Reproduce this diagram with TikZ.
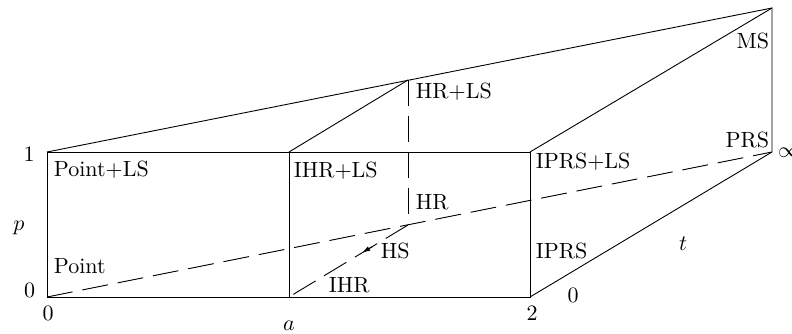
\documentclass[tikz,border=0pt]{standalone}
\usetikzlibrary{arrows.meta,calc}
\begin{document}
\begin{tikzpicture}[x=1pt,y=-1pt, line width=0.9pt,
  lbl/.style={inner sep=0pt, scale=2.2, transform shape},
  dsh/.style={dash pattern=on 26pt off 10pt}]
\useasboundingbox (0,0) rectangle (792,333);
\coordinate (O) at (47,297);
\coordinate (A) at (289,297);
\coordinate (B) at (530,297);
\coordinate (O1) at (47,152);
\coordinate (A1) at (289,152);
\coordinate (B1) at (530,152);
\coordinate (HRLS) at (408,80);
\coordinate (HR) at (408,225);
\coordinate (MS) at (772,8);
\coordinate (PRS) at (772,152);
\draw (O) -- (B) -- (B1) -- (O1) -- cycle;
\draw (A) -- (A1);
\draw (O1) -- (MS) -- (PRS) -- (B);
\draw (B1) -- (MS);
\draw (A1) -- (HRLS);
\draw[dsh] (HRLS) -- (HR);
\draw[dsh] (O) -- (PRS);
\draw[dsh] (HR) -- (A);
\draw[-{Latex[length=8pt,width=5pt]}] ($(HR)!0.30!(A)$) -- ($(HR)!0.385!(A)$);
% labels
\node[lbl, anchor=base west] (tPLS) at (53,176) {Point+LS};
\node[lbl, anchor=base west] (tP) at (53,273) {Point};
\node[lbl, anchor=base west] (tIHRLS) at (293,177) {IHR+LS};
\node[lbl, anchor=base west] (tIHR) at (328,292) {IHR};
\node[lbl, anchor=base west] (tHS) at (380,258) {HS};
\node[lbl, anchor=base west] (tHR) at (415,209) {HR};
\node[lbl, anchor=base west] (tHRLS) at (415,98) {HR+LS};
\node[lbl, anchor=base west] (tIPRSLS) at (535,168) {IPRS+LS};
\node[lbl, anchor=base west] (tIPRS) at (535,258) {IPRS};
\node[lbl, anchor=base east] (tPRS) at (770,147) {PRS};
\node[lbl, anchor=base east] (tMS) at (770,48) {MS};
% axis labels
\node[lbl, anchor=base] (one) at (29,161) {1};
\node[lbl, anchor=base] (zl) at (29.5,297) {0};
\node[lbl, anchor=base] (p) at (19,230) {$p$};
\node[lbl, anchor=base] (zb) at (48,320) {0};
\node[lbl, anchor=base] (a) at (289,330) {$a$};
\node[lbl, anchor=base] (two) at (532,320) {2};
\node[lbl, anchor=base] (zr) at (573,302) {0};
\node[lbl, anchor=base] (t) at (683,250) {$t$};
\node[lbl, anchor=base west] (inf) at (777,157) {$\infty$};
\end{tikzpicture}
\end{document}
